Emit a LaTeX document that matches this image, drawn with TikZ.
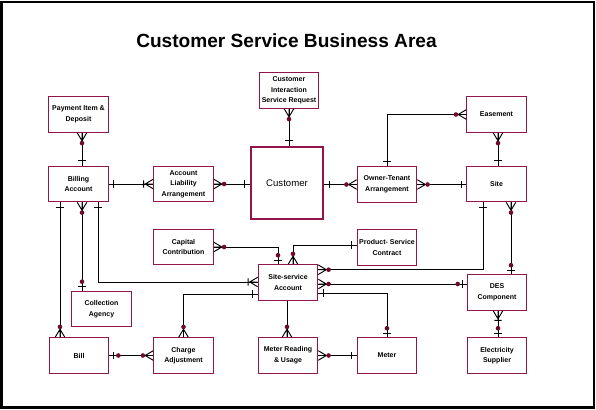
\documentclass[tikz,border=0pt]{standalone}
\usepackage{fontspec}
\setmainfont{Liberation Sans}
\usetikzlibrary{calc}
\definecolor{boxc}{RGB}{145,20,75}
\definecolor{dotc}{RGB}{110,10,45}
\tikzset{
  ent/.style={draw=boxc, line width=1.1pt, minimum width=59.5pt, minimum height=35.5pt,
    inner sep=0pt, align=center, font=\fontsize{7}{10.6}\selectfont\bfseries, fill=white},
  conn/.style={line width=0.95pt, black},
  pics/erone/.style={code={\draw[conn] (5,-3.6)--(5,3.6);}},
  pics/ercrowdot/.style={code={\draw[conn] (0,-4.8)--(8,0)--(0,4.8) (0,0)--(8,0);
      \fill[dotc] (10.3,0) circle (2.3);}},
  pics/ercrowbar/.style={code={\draw[conn] (0,-4.8)--(8,0)--(0,4.8) (0,0)--(8,0) (9.5,-3.6)--(9.5,3.6);}},
  pics/erbardot/.style={code={\draw[conn] (4,-3.6)--(4,3.6); \fill[dotc] (9,0) circle (2.3);}}
}
\begin{document}
\begin{tikzpicture}[x=1pt,y=-1pt]
\useasboundingbox (0,0) rectangle (596,409);
\fill[white] (0,0) rectangle (596,409);
\draw[black, line width=2.2pt] (1.5,2.3) rectangle (594,407.5);

\node[font=\fontsize{19.1}{21}\selectfont\bfseries, anchor=base] (title) at (286.5,48) {Customer Service Business Area};

% entities
\node[ent] (pay) at (78.5,114.5) {Payment Item \&\\Deposit};
\node[ent] (billacc) at (78.5,184) {Billing\\Account};
\node[ent] (ala) at (183.5,184) {Account\\Liability\\Arrangement};
\node[ent, line width=2.2pt, minimum width=72pt, minimum height=72pt, font=\fontsize{9.6}{11}\selectfont] (cust) at (287,183) {Customer};
\node[ent] (cisr) at (289,90.5) {Customer\\Interaction\\Service Request};
\node[ent] (ota) at (387,184.5) {Owner-Tenant\\Arrangement};
\node[ent] (ease) at (496.5,114.5) {Easement};
\node[ent] (site) at (496.5,184) {Site};
\node[ent] (cap) at (183.5,247) {Capital\\Contribution};
\node[ent] (ssa) at (288,282.5) {Site-service\\Account};
\node[ent] (coll) at (101.5,309) {Collection\\Agency};
\node[ent] (psc) at (387,247.5) {Product- Service\\Contract};
\node[ent] (des) at (497,292.5) {DES\\Component};
\node[ent] (billx) at (79,355.5) {Bill};
\node[ent] (charge) at (183.5,355.5) {Charge\\Adjustment};
\node[ent] (mru) at (288,355.5) {Meter Reading\\\& Usage};
\node[ent] (meter) at (387,355.5) {Meter};
\node[ent] (elec) at (497,355.5) {Electricity\\Supplier};

% Payment - Billing Account
\coordinate (a1) at ($(pay.south)+(3.5,0)$);
\coordinate (a2) at ($(billacc.north)+(3.5,0)$);
\draw[conn] (a1) -- (a2);
\pic[rotate=-90] at (a1) {ercrowdot};
\pic[rotate=90] at (a2) {erone};

% Billing Account - ALA
\draw[conn] (billacc.east) -- (ala.west);
\pic at (billacc.east) {erone};
\pic[rotate=180] at (ala.west) {ercrowbar};

% ALA - Customer
\coordinate (c1) at (ala.east -| cust.west);
\draw[conn] (ala.east) -- (c1);
\pic at (ala.east) {ercrowdot};
\pic[rotate=180] at (c1) {erone};

% CISR - Customer
\coordinate (c2) at (cisr.south |- cust.north);
\draw[conn] (cisr.south) -- (c2);
\pic[rotate=-90] at (cisr.south) {ercrowdot};
\pic[rotate=90] at (c2) {erone};

% Customer - OTA
\coordinate (c3) at (ota.west -| cust.east);
\draw[conn] (c3) -- (ota.west);
\pic at (c3) {erone};
\pic[rotate=180] at (ota.west) {ercrowdot};

% OTA - Easement
\draw[conn] (ota.north) -- (ota.north |- ease.west) -- (ease.west);
\pic[rotate=90] at (ota.north) {erone};
\pic[rotate=180] at (ease.west) {ercrowdot};

% OTA - Site
\coordinate (c4) at (ota.east -| site.west);
\draw[conn] (ota.east) -- (c4);
\pic at (ota.east) {ercrowdot};
\pic[rotate=180] at (c4) {erone};

% Easement - Site
\coordinate (e1) at ($(ease.south)+(1.5,0)$);
\coordinate (e2) at ($(site.north)+(1.5,0)$);
\draw[conn] (e1) -- (e2);
\pic[rotate=-90] at (e1) {ercrowdot};
\pic[rotate=90] at (e2) {erone};

% Site - Site-service Account
\coordinate (s1) at ($(site.south)+(-13.5,0)$);
\coordinate (s2) at ($(ssa.north east)+(0,5.5)$);
\draw[conn] (s1) -- (s1 |- s2) -- (s2);
\pic[rotate=-90] at (s1) {erone};
\pic at (s2) {ercrowdot};

% Site - DES
\coordinate (d1) at ($(site.south)+(14.5,0)$);
\coordinate (d2) at ($(des.north)+(14,0)$);
\draw[conn] (d1) -- (d2);
\pic[rotate=-90] at (d1) {ercrowdot};
\pic[rotate=90] at (d2) {erbardot};

% SSA - DES
\coordinate (s3) at ($(ssa.east)+(0,1.5)$);
\draw[conn] (s3) -- (s3 -| des.west);
\pic at (s3) {ercrowdot};
\pic[rotate=180] at (s3 -| des.west) {erbardot};

% SSA - Meter
\coordinate (s4) at ($(ssa.east)+(0,10.5)$);
\draw[conn] (s4) -- (s4 -| meter.north) -- (meter.north);
\pic at (s4) {erone};
\pic[rotate=90] at (meter.north) {erbardot};

% DES - Electricity Supplier
\coordinate (d3) at ($(des.south)+(1,0)$);
\coordinate (d4) at ($(elec.north)+(1,0)$);
\draw[conn] (d3) -- (d4);
\pic[rotate=-90] at (d3) {ercrowbar};
\pic[rotate=90] at (d4) {erbardot};

% Capital Contribution - SSA
\coordinate (t1) at ($(ssa.north)+(-10,0)$);
\draw[conn] (cap.east) -- (cap.east -| t1) -- (t1);
\pic at (cap.east) {ercrowdot};
\pic[rotate=90] at (t1) {erbardot};

% Product-Service Contract - SSA
\coordinate (t2) at ($(ssa.north)+(5,0)$);
\coordinate (t3) at ($(psc.west)+(0,-2.5)$);
\draw[conn] (t3) -- (t3 -| t2) -- (t2);
\pic[rotate=180] at (t3) {erone};
\pic[rotate=90] at (t2) {ercrowdot};

% Billing Account - Bill
\coordinate (b1) at ($(billacc.south)+(-18.5,0)$);
\coordinate (b2) at ($(billx.north)+(-19,0)$);
\draw[conn] (b1) -- (b2);
\pic[rotate=-90] at (b1) {erone};
\pic[rotate=90] at (b2) {ercrowdot};

% Billing Account - Collection Agency
\coordinate (b3) at ($(billacc.south)+(3.5,0)$);
\coordinate (b4) at (b3 |- coll.north);
\draw[conn] (b3) -- (b4);
\pic[rotate=-90] at (b3) {ercrowdot};
\pic[rotate=90] at (b4) {erbardot};

% Billing Account - SSA
\coordinate (b5) at ($(billacc.south)+(19.5,0)$);
\coordinate (s5) at ($(ssa.west)+(0,-0.5)$);
\draw[conn] (b5) -- (b5 |- s5) -- (s5);
\pic[rotate=-90] at (b5) {erone};
\pic[rotate=180] at (s5) {ercrowbar};

% SSA - Charge Adjustment
\coordinate (s6) at ($(ssa.west)+(0,11.5)$);
\draw[conn] (s6) -- (s6 -| charge.north) -- (charge.north);
\pic[rotate=180] at (s6) {erone};
\pic[rotate=90] at (charge.north) {ercrowdot};

% SSA - Meter Reading
\coordinate (m1) at ($(ssa.south)+(-1,0)$);
\coordinate (m2) at ($(mru.north)+(-1,0)$);
\draw[conn] (m1) -- (m2);
\pic[rotate=90] at (m2) {ercrowdot};

% Bill - Charge Adjustment
\draw[conn] (billx.east) -- (charge.west);
\pic at (billx.east) {erbardot};
\pic[rotate=180] at (charge.west) {ercrowdot};

% Meter Reading - Meter
\draw[conn] (mru.east) -- (meter.west);
\pic at (mru.east) {ercrowdot};
\pic[rotate=180] at (meter.west) {erone};
\end{tikzpicture}
\end{document}
